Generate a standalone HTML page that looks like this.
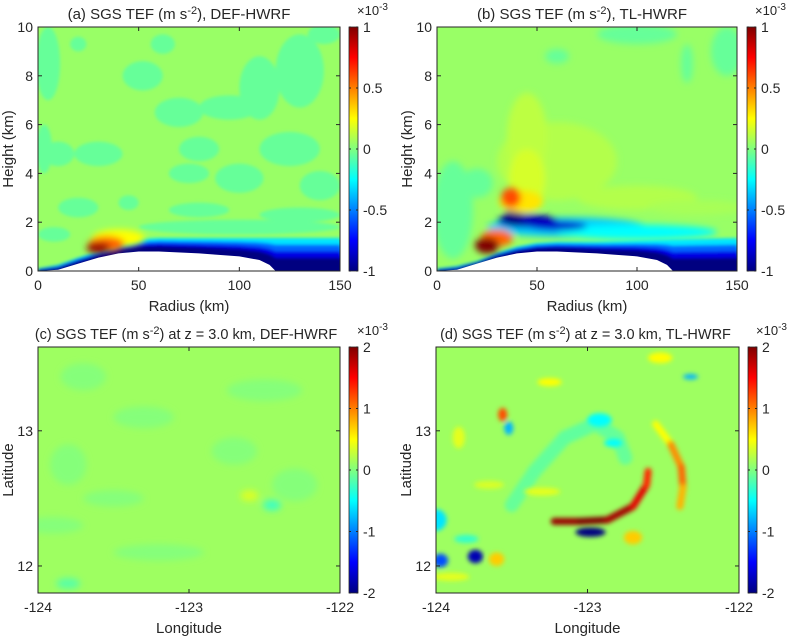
<!DOCTYPE html>
<html><head><meta charset="utf-8">
<style>
html,body{margin:0;padding:0;background:#fff;}
svg{display:block;font-family:"Liberation Sans",Arial,sans-serif;}
</style></head>
<body>
<svg id="fig" width="796" height="637" viewBox="0 0 796 637" xmlns="http://www.w3.org/2000/svg">
<defs>
<filter id="blurA" x="-50%" y="-50%" width="200%" height="200%"><feGaussianBlur stdDeviation="3.5"/></filter>
<filter id="blurS" x="-50%" y="-50%" width="200%" height="200%"><feGaussianBlur stdDeviation="1.5"/></filter>
<filter id="blurD" x="-50%" y="-50%" width="200%" height="200%"><feGaussianBlur stdDeviation="2.5"/></filter>
<linearGradient id="jetGrad" x1="0" y1="1" x2="0" y2="0">
<stop offset="0" stop-color="#000080"/><stop offset="0.125" stop-color="#0000ff"/>
<stop offset="0.375" stop-color="#00ffff"/><stop offset="0.625" stop-color="#ffff00"/>
<stop offset="0.875" stop-color="#ff0000"/><stop offset="1" stop-color="#800000"/>
</linearGradient>
</defs>
</svg>
<script>
// ---- data ----
const aXTicks=[0,50,100,150];
const aYTicks=[0,2,4,6,8,10];
const abCbTicks=[-1,-0.5,0,0.5,1];
const cdXTicks=[-124,-123,-122];
const cdYTicks=[12,13];
const cdCbTicks=[-2,-1,0,1,2];
const terrR=[0,10,20,30,40,50,60,80,100,110,115,118];
const terrZ=[0,0.05,0.3,0.55,0.72,0.8,0.8,0.72,0.6,0.45,0.25,0];
const bandR=[0,10,20,30,40,50,60,80,100,120,150];
const bandTopA=[0.1,0.25,0.55,0.8,1.1,1.3,1.35,1.35,1.35,1.35,1.35];
const bandTopB=[0.1,0.2,0.4,0.75,1.0,1.15,1.2,1.2,1.25,1.3,1.35];
const bandFrac=[1,0.8,0.6,0.4];
const bandVal=[-0.3,-0.55,-0.8,-1.0];
const aPatchR=[5,3,20,62,52,70,95,110,130,142,125,80,30,10,75,100,140,130,20,45,80,100,8];
const aPatchZ=[8.5,5,9.3,9.3,8.0,6.5,6.7,7.5,8.2,9.7,5.0,5.0,4.8,4.8,4.0,3.8,3.5,2.3,2.6,2.8,2.5,1.8,1.5];
const aPatchRx=[6,4,4,6,10,12,15,10,12,8,15,10,12,8,10,12,10,20,10,5,15,50,8];
const aPatchRz=[1.5,1.0,0.3,0.4,0.6,0.6,0.5,1.3,1.5,0.4,0.7,0.5,0.5,0.5,0.4,0.6,0.6,0.3,0.4,0.3,0.3,0.3,0.3];
const aPatchV=[-0.05,-0.05,-0.05,-0.05,-0.05,-0.05,-0.05,-0.05,-0.05,-0.05,-0.05,-0.05,-0.05,-0.05,-0.05,-0.05,-0.05,-0.05,-0.05,-0.05,-0.05,-0.05,-0.05];
const aFeatR=[40,34,30];
const aFeatZ=[1.35,1.1,0.95];
const aFeatRx=[13,9,6];
const aFeatRz=[0.35,0.32,0.22];
const aFeatV=[0.25,0.55,0.95];
const bPatchR=[8,20,100,145,125,60,60,45,45,100,130];
const bPatchZ=[2.5,3.6,9.7,9,8.5,8.8,4.5,5.5,3.8,3.0,2.6];
const bPatchRx=[10,8,20,8,3,6,30,10,9,30,25];
const bPatchRz=[2,0.6,0.4,1,0.8,0.3,1.6,1.8,1.2,0.5,0.3];
const bPatchV=[-0.05,-0.05,-0.05,-0.05,-0.05,-0.05,0.1,0.12,0.17,0.1,0.08];
const bFeatR=[65,100,45,60,38,42,37,30,25];
const bFeatZ=[1.8,1.6,2.05,1.85,2.2,2.85,3.0,1.35,1.05];
const bFeatRx=[40,40,15,15,5,11,5,8,6];
const bFeatRz=[0.4,0.3,0.28,0.2,0.3,0.45,0.4,0.35,0.33];
const bFeatV=[-0.35,-0.25,-0.9,-0.85,-1.0,0.3,0.6,0.55,1.0];
const cBlobLon=[-123.7,-123.3,-122.5,-123.8,-123.5,-122.7,-122.3,-123.9,-123.2,-122.6,-122.45,-123.8];
const cBlobLat=[13.4,13.1,13.3,12.75,12.5,12.85,12.6,12.3,12.1,12.52,12.45,11.87];
const cBlobRl=[0.15,0.2,0.25,0.12,0.2,0.15,0.15,0.2,0.3,0.06,0.06,0.08];
const cBlobRt=[0.1,0.08,0.08,0.15,0.06,0.1,0.12,0.06,0.06,0.04,0.04,0.04];
const cBlobV=[0.02,0.02,0.02,0.02,0.02,0.02,0.02,0.02,0.02,0.35,-0.25,-0.15];
const dBlobLon=[-122.98,-123.74,-123.97,-124.0,-123.56,-123.52,-122.92,-122.83,-122.32,-123.25,-122.52,-122.70,-123.9,-123.6,-123.3,-123.85,-123.65,-123.8];
const dBlobLat=[12.25,12.07,12.04,12.34,13.12,13.02,13.08,12.91,13.40,13.36,13.54,12.21,11.92,12.05,12.55,12.95,12.6,12.2];
const dBlobRl=[0.1,0.05,0.05,0.07,0.03,0.03,0.08,0.06,0.05,0.08,0.08,0.06,0.12,0.05,0.12,0.04,0.1,0.08];
const dBlobRt=[0.035,0.05,0.05,0.08,0.05,0.05,0.05,0.03,0.02,0.03,0.04,0.05,0.03,0.05,0.03,0.08,0.03,0.03];
const dBlobV=[-2,-1.8,-1.2,-0.6,1.2,-0.8,-0.5,-0.5,-0.8,0.5,0.5,0.7,0.4,0.7,0.4,0.4,0.35,-0.3];
const arcLon=[-123.22,-123.05,-122.87,-122.70,-122.61,-122.60];
const arcLat=[12.33,12.33,12.34,12.44,12.6,12.7];
const arcV=[1.8,2,2,1.7,1.5,1.2];
const outerLon=[-122.55,-122.45,-122.38,-122.37,-122.39];
const outerLat=[13.05,12.9,12.73,12.58,12.44];
const outerV=[0.4,0.6,1.3,0.9,0.7];
const swirlLon=[-123.5,-123.35,-123.15,-122.95,-122.8,-122.75];
const swirlLat=[12.45,12.7,12.95,13.05,12.95,12.8];
const swirlV=[-0.1,-0.1,-0.12,-0.12,-0.1,-0.1];

// ---- helpers ----
const NS='http://www.w3.org/2000/svg';
const svg=document.getElementById('fig');
function mk(tag,attrs,parent){const e=document.createElementNS(NS,tag);for(const k in attrs)e.setAttribute(k,attrs[k]);(parent||svg).appendChild(e);return e;}
function clamp(x){return Math.max(0,Math.min(1,x));}
function jet(v,lim){const t=(v+lim)/(2*lim);const r=clamp(1.5-Math.abs(4*t-3)),g=clamp(1.5-Math.abs(4*t-2)),b=clamp(1.5-Math.abs(4*t-1));
 return 'rgb('+Math.round(r*255)+','+Math.round(g*255)+','+Math.round(b*255)+')';}
function interp(xs,ys,x){if(x<=xs[0])return ys[0];for(let i=1;i<xs.length;i++){if(x<=xs[i]){const f=(x-xs[i-1])/(xs[i]-xs[i-1]);return ys[i-1]+f*(ys[i]-ys[i-1]);}}return ys[ys.length-1];}

function makePanel(p){
 const sx=v=>p.x0+(v-p.xd[0])/(p.xd[1]-p.xd[0])*(p.x1-p.x0);
 const sy=v=>p.y1-(v-p.yd[0])/(p.yd[1]-p.yd[0])*(p.y1-p.y0);
 p.sx=sx;p.sy=sy;
 const cp=mk('clipPath',{id:'clip'+p.id});
 mk('rect',{x:p.x0,y:p.y0,width:p.x1-p.x0,height:p.y1-p.y0},cp);
 const g=mk('g',{'clip-path':'url(#clip'+p.id+')'});
 
 
 const bg=mk('rect',{x:p.x0,y:p.y0,width:p.x1-p.x0,height:p.y1-p.y0,fill:jet(p.bg,p.lim)},g);
 
 
 p.g=g;
 return p;
}
function blobs(p,X,Y,RX,RY,V,filt){
 const gg=mk('g',{filter:'url(#'+filt+')'},p.g);
 for(let i=0;i<X.length;i++){
  const e=mk('ellipse',{cx:p.sx(X[i]),cy:p.sy(Y[i]),rx:Math.abs(p.sx(X[i]+RX[i])-p.sx(X[i])),ry:Math.abs(p.sy(Y[i]+RY[i])-p.sy(Y[i])),fill:jet(V[i],p.lim)},gg);
  
  
 }
}
function streak(p,X,Y,V,w,filt){
 const gg=mk('g',{filter:'url(#'+filt+')'},p.g);
 for(let i=0;i<X.length-1;i++){
  const l=mk('line',{x1:p.sx(X[i]),y1:p.sy(Y[i]),x2:p.sx(X[i+1]),y2:p.sy(Y[i+1]),stroke:jet((V[i]+V[i+1])/2,p.lim),'stroke-width':w,'stroke-linecap':'round'},gg);
  
  
 }
}
function band(p,tops){
 const gg=mk('g',{filter:'url(#blurS)'},p.g);
 for(let k=0;k<bandFrac.length;k++){
  let pts=[];
  for(let r=0;r<=150;r+=2){const t=Math.max(interp(terrR,terrZ,r),0);const top=interp(bandR,tops,r);
   const z=t+(top-t)*bandFrac[k];pts.push(p.sx(r)+','+p.sy(z));}
  pts.push(p.sx(155)+','+(p.y1+5));pts.push(p.sx(0)+','+(p.y1+5));
  const pg=mk('polygon',{points:pts.join(' '),fill:jet(bandVal[k],p.lim)},gg);
  
  
 }
}
function terrain(p){
 let pts=terrR.map((r,i)=>p.sx(r)+','+p.sy(terrZ[i]));
 pts.push(p.sx(118)+','+(p.y1+2));pts.push(p.sx(0)+','+(p.y1+2));
 const t=mk('polygon',{points:pts.join(' '),fill:'#ffffff'},p.g);
 
 
}
function fmt(v){return (v<0?'-':'')+String(Math.abs(v));}
function axes(p,xt,yt,cbt,title,xl,yl){
 const box=mk('rect',{x:p.x0,y:p.y0,width:p.x1-p.x0,height:p.y1-p.y0,fill:'none',stroke:'#262626','stroke-width':1});
 
 
 xt.forEach(v=>{const x=p.sx(v);
  mk('line',{x1:x,y1:p.y1,x2:x,y2:p.y1-4,stroke:'#262626'});
  mk('line',{x1:x,y1:p.y0,x2:x,y2:p.y0+4,stroke:'#262626'});
  const t=mk('text',{x:x,y:p.y1+19,'text-anchor':'middle','font-size':14,fill:'#262626'});t.textContent=fmt(v);
  
  });
 yt.forEach(v=>{const y=p.sy(v);
  mk('line',{x1:p.x0,y1:y,x2:p.x0+4,y2:y,stroke:'#262626'});
  mk('line',{x1:p.x1,y1:y,x2:p.x1-4,y2:y,stroke:'#262626'});
  const t=mk('text',{x:p.x0-5,y:y+5,'text-anchor':'end','font-size':14,fill:'#262626'});t.textContent=fmt(v);
  
  });
 const xlab=mk('text',{x:(p.x0+p.x1)/2,y:p.y1+40,'text-anchor':'middle','font-size':15,fill:'#262626'});xlab.textContent=xl;
 
 
 const cy=(p.y0+p.y1)/2;
 const ylab=mk('text',{x:0,y:0,transform:'translate('+(p.x0-25)+','+cy+') rotate(-90)','text-anchor':'middle','font-size':15,fill:'#262626'});ylab.textContent=yl;
 
 
 const tt=mk('text',{x:(p.x0+p.x1)/2+p.toff,y:p.y0-8,'text-anchor':'middle','font-size':p.tfs,fill:'#262626'});
 tt.innerHTML=title;
 
 
 const cb=mk('rect',{x:p.cbx,y:p.y0,width:9,height:p.y1-p.y0,fill:'url(#jetGrad)',stroke:'#262626','stroke-width':0.8});
 
 
 cbt.forEach(v=>{const y=p.y1-(v+p.lim)/(2*p.lim)*(p.y1-p.y0);
  mk('line',{x1:p.cbx,y1:y,x2:p.cbx+2,y2:y,stroke:'#262626'});
  mk('line',{x1:p.cbx+9,y1:y,x2:p.cbx+7,y2:y,stroke:'#262626'});
  const t=mk('text',{x:p.cbx+14,y:y+5,'font-size':14,fill:'#262626'});t.textContent=fmt(v);
  
  });
 const ex=mk('text',{x:p.cbx+8,y:p.y0-12,'font-size':13,fill:'#262626'});
 ex.innerHTML='×10<tspan dy="-5" font-size="10">-3</tspan>';
 
 
}

// ---- panels ----
const pa=makePanel({id:'a',x0:38,x1:340,y0:27,y1:271,xd:[0,150],yd:[0,10],lim:1,bg:0.05,cbx:349,toff:-10,tfs:15});
blobs(pa,aPatchR,aPatchZ,aPatchRx,aPatchRz,aPatchV,'blurS');
band(pa,bandTopA);
blobs(pa,aFeatR,aFeatZ,aFeatRx,aFeatRz,aFeatV,'blurA');
terrain(pa);
axes(pa,aXTicks,aYTicks,abCbTicks,'(a) SGS TEF (m s<tspan dy="-5" font-size="11">-2</tspan><tspan dy="5">), DEF-HWRF</tspan>','Radius (km)','Height (km)');

const pb=makePanel({id:'b',x0:437,x1:737,y0:27,y1:271,xd:[0,150],yd:[0,10],lim:1,bg:0.05,cbx:747,toff:-5,tfs:15});
blobs(pb,bPatchR,bPatchZ,bPatchRx,bPatchRz,bPatchV,'blurA');
band(pb,bandTopB);
blobs(pb,bFeatR,bFeatZ,bFeatRx,bFeatRz,bFeatV,'blurA');
terrain(pb);
axes(pb,aXTicks,aYTicks,abCbTicks,'(b) SGS TEF (m s<tspan dy="-5" font-size="11">-2</tspan><tspan dy="5">), TL-HWRF</tspan>','Radius (km)','Height (km)');

const pc=makePanel({id:'c',x0:38,x1:340,y0:347,y1:593,xd:[-124,-122],yd:[11.8,13.62],lim:2,bg:0.12,cbx:349,toff:-3,tfs:14.5});
blobs(pc,cBlobLon,cBlobLat,cBlobRl,cBlobRt,cBlobV,'blurA');
axes(pc,cdXTicks,cdYTicks,cdCbTicks,'(c) SGS TEF (m s<tspan dy="-5" font-size="11">-2</tspan><tspan dy="5">) at z = 3.0 km, DEF-HWRF</tspan>','Longitude','Latitude');

const pd=makePanel({id:'d',x0:436,x1:739,y0:347,y1:593,xd:[-124,-122],yd:[11.8,13.62],lim:2,bg:0.12,cbx:748,toff:-2,tfs:14.5});
streak(pd,swirlLon,swirlLat,swirlV,14,'blurD');
blobs(pd,dBlobLon,dBlobLat,dBlobRl,dBlobRt,dBlobV,'blurD');
streak(pd,outerLon,outerLat,outerV,7,'blurD');
streak(pd,arcLon,arcLat,arcV,7,'blurD');
axes(pd,cdXTicks,cdYTicks,cdCbTicks,'(d) SGS TEF (m s<tspan dy="-5" font-size="11">-2</tspan><tspan dy="5">) at z = 3.0 km, TL-HWRF</tspan>','Longitude','Latitude');
</script>
</body></html>
